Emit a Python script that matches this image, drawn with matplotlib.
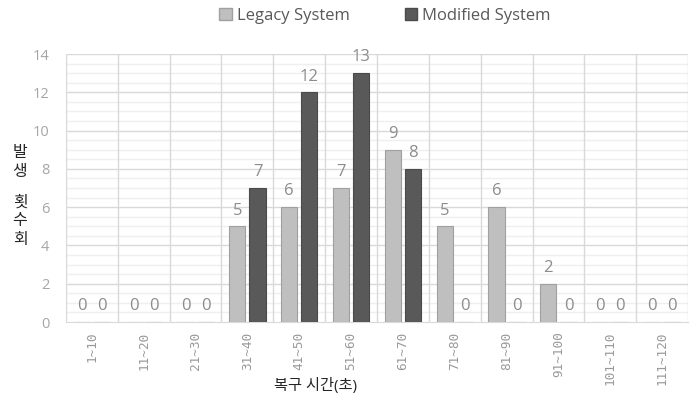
import numpy as np
import matplotlib
matplotlib.use("Agg")
import matplotlib.pyplot as plt
from matplotlib.patches import Patch

# ---------------------------------------------------------------------------
# Data
# ---------------------------------------------------------------------------
categories = ["1~10", "11~20", "21~30", "31~40", "41~50", "51~60",
              "61~70", "71~80", "81~90", "91~100", "101~110", "111~120"]
legacy = [0, 0, 0, 5, 6, 7, 9, 5, 6, 2, 0, 0]
modified = [0, 0, 0, 7, 12, 13, 8, 0, 0, 0, 0, 0]
series_names = ["Legacy System", "Modified System"]
y_ticks = [0, 2, 4, 6, 8, 10, 12, 14]
y_label_chars = ["발", "생", "횟", "수", "회"]

plt.rcParams["font.family"] = ["Open Sans", "Noto Sans CJK KR", "DejaVu Sans"]

LEGACY_C = "#bfbfbf"
MOD_C = "#595959"
EDGE_C = "#a0a0a0"

fig = plt.figure(figsize=(6.99, 3.99), dpi=100)
ax = fig.add_axes([66 / 699, 1 - 322 / 399, 622 / 699, 268 / 399])

x = np.arange(len(categories))
w = 0.31
off = 0.195

ax.bar(x - off, legacy, w, color=LEGACY_C, edgecolor=EDGE_C, linewidth=0.8,
       zorder=3)
ax.bar(x + off, modified, w, color=MOD_C, edgecolor="#4a4a4a", linewidth=0.8,
       zorder=3)

# value labels
for xi, v in zip(x - off, legacy):
    ax.text(xi, v + 0.4, str(v), ha="center", va="bottom", fontsize=12,
            color="#8c8c8c")
for xi, v in zip(x + off, modified):
    ax.text(xi, v + 0.4, str(v), ha="center", va="bottom", fontsize=12,
            color="#8c8c8c")

ax.set_xlim(-0.5, len(categories) - 0.5)
ax.set_ylim(0, 14)

# gridlines
for yv in np.arange(0.5, 14, 0.5):
    major = abs(yv % 2) < 1e-9
    ax.axhline(yv, color="#d9d9d9" if major else "#efefef",
               linewidth=1.0, zorder=1)
ax.axhline(14, color="#d9d9d9", linewidth=1.0, zorder=1)
for xb in np.arange(-0.5, len(categories), 1.0):
    ax.axvline(xb, color="#d9d9d9", linewidth=1.0, zorder=1)

for s in ["top", "right", "left"]:
    ax.spines[s].set_visible(False)
ax.spines["bottom"].set_color("#d9d9d9")

ax.set_yticks(y_ticks)
ax.set_yticklabels([str(t) for t in y_ticks], fontsize=10.5, color="#a6a6a6")
ax.set_xticks(x)
ax.set_xticklabels(categories, rotation=90, fontsize=9.2, color="#999999",
                   family=["DejaVu Sans Mono"])
ax.tick_params(axis="x", length=0, pad=7)
ax.tick_params(axis="y", length=0, pad=12)

fig.text(315 / 699, 1 - 386 / 399, "복구 시간(초)", ha="center",
         va="center", fontsize=11, color="#262626")

# stacked vertical y label
for ch, yp in zip(y_label_chars, [153, 172, 203, 221, 240]):
    fig.text(20 / 699, 1 - yp / 399, ch, ha="center", va="center",
             fontsize=11.5, color="#262626")

handles = [Patch(facecolor=LEGACY_C, edgecolor=EDGE_C),
           Patch(facecolor=MOD_C, edgecolor="#4a4a4a")]
fig.legend(handles, series_names, loc="center",
           bbox_to_anchor=(385 / 699, 1 - 16 / 399), ncol=2, frameon=False,
           fontsize=12, labelcolor="#595959", handlelength=0.75,
           handleheight=0.75, handletextpad=0.3, columnspacing=3.3)

fig.savefig("out.png", dpi=100)
